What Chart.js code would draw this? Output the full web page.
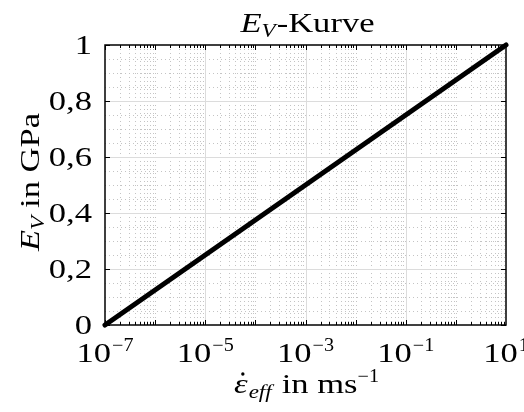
<!DOCTYPE html>
<html>
<head>
<meta charset="utf-8">
<script src="https://cdn.jsdelivr.net/npm/chart.js@4/dist/chart.umd.min.js"></script>
<style>
  html, body { margin: 0; padding: 0; background: #fff; }
  #wrap { width: 524px; height: 412px; }
</style>
</head>
<body>
<div id="wrap"><canvas id="evChart" width="524" height="412"></canvas></div>
<script>
// Daten der E_V-Kurve (Endpunkte der Geraden im log-x Diagramm)
const strainRates = [1e-7, 10];
const evValues = [0, 1];

// Achsenbeschriftung
const xTickExponents = [-7, -5, -3, -1, 1];
const yTickValues = [0, 0.2, 0.4, 0.6, 0.8, 1];
const yTickLabels = ['0', '0,2', '0,4', '0,6', '0,8', '1'];

const FONT = '"Liberation Serif", "DejaVu Serif", serif';
const SIZE = 27;
const SMALL = 18;
const STRETCH = 1.28; // breitere Schrift wie LaTeX

// Text aus mehreren Stücken (kursiv, tief-/hochgestellt) zeichnen
function setFont(ctx, r) {
    ctx.font = (r.italic ? 'italic ' : '') + r.size + 'px ' + FONT;
}

function runsWidth(ctx, runs) {
    let w = 0;
    runs.forEach(r => {
        setFont(ctx, r);
        w += ctx.measureText(r.text).width * (r.sx || STRETCH) + (r.gap || 0);
    });
    return w;
}

function drawRuns(ctx, runs, x, y, align) {
    let start = x;
    const w = runsWidth(ctx, runs);
    if (align === 'center') start = x - w / 2;
    if (align === 'right') start = x - w;
    ctx.textBaseline = 'alphabetic';
    ctx.textAlign = 'left';
    const pos = [];
    runs.forEach(r => {
        setFont(ctx, r);
        const sx = r.sx || STRETCH;
        const rw = ctx.measureText(r.text).width * sx;
        ctx.save();
        ctx.translate(start, y + (r.dy || 0));
        ctx.scale(sx, 1);
        ctx.fillText(r.text, 0, 0);
        ctx.restore();
        pos.push({ x: start, w: rw });
        start += rw + (r.gap || 0);
    });
    return pos;
}

const axesPlugin = {
    id: 'matlabAxes',
    beforeDatasetsDraw(chart) {
        const { ctx, chartArea: a, scales: { x, y } } = chart;
        ctx.save();

        // kleine Gitterlinien (gepunktet)
        ctx.strokeStyle = '#c4c4c4';
        ctx.lineWidth = 1;
        ctx.setLineDash([1, 3]);
        for (let e = -7; e < 1; e++) {
            for (let m = 1; m < 10; m++) {
                const v = m * Math.pow(10, e);
                if (m === 1 && (e % 2 !== 0)) continue;
                const px = Math.round(x.getPixelForValue(v)) + 0.5;
                ctx.beginPath();
                ctx.moveTo(px, a.top);
                ctx.lineTo(px, a.bottom);
                ctx.stroke();
            }
        }
        for (let i = 1; i < 20; i++) {
            if (i % 4 === 0) continue;
            const py = Math.round(y.getPixelForValue(i * 0.05)) + 0.5;
            ctx.beginPath();
            ctx.moveTo(a.left, py);
            ctx.lineTo(a.right, py);
            ctx.stroke();
        }

        // Hauptgitter
        ctx.setLineDash([]);
        ctx.strokeStyle = '#dcdcdc';
        xTickExponents.slice(1, -1).forEach(e => {
            const px = Math.round(x.getPixelForValue(Math.pow(10, e))) + 0.5;
            ctx.beginPath();
            ctx.moveTo(px, a.top);
            ctx.lineTo(px, a.bottom);
            ctx.stroke();
        });
        yTickValues.slice(1, -1).forEach(v => {
            const py = Math.round(y.getPixelForValue(v)) + 0.5;
            ctx.beginPath();
            ctx.moveTo(a.left, py);
            ctx.lineTo(a.right, py);
            ctx.stroke();
        });

        // Ticks nach innen
        ctx.strokeStyle = '#000';
        ctx.lineWidth = 1;
        for (let e = -7; e < 1; e++) {
            for (let m = 1; m < 10; m++) {
                const v = m * Math.pow(10, e);
                const px = Math.round(x.getPixelForValue(v)) + 0.5;
                const len = m === 1 ? 5 : 3;
                ctx.beginPath();
                ctx.moveTo(px, a.bottom);
                ctx.lineTo(px, a.bottom - len);
                ctx.moveTo(px, a.top);
                ctx.lineTo(px, a.top + len);
                ctx.stroke();
            }
        }
        yTickValues.forEach(v => {
            const py = Math.round(y.getPixelForValue(v)) + 0.5;
            ctx.beginPath();
            ctx.moveTo(a.left, py);
            ctx.lineTo(a.left + 5, py);
            ctx.moveTo(a.right, py);
            ctx.lineTo(a.right - 5, py);
            ctx.stroke();
        });

        // Rahmen
        ctx.lineWidth = 1.5;
        ctx.strokeRect(a.left, a.top, a.right - a.left, a.bottom - a.top);
        ctx.restore();
    },
    afterDraw(chart) {
        const { ctx, chartArea: a, scales: { x, y } } = chart;
        ctx.save();
        ctx.fillStyle = '#000';

        // y-Tickbeschriftung
        yTickValues.forEach((v, i) => {
            const py = y.getPixelForValue(v);
            drawRuns(ctx, [{ text: yTickLabels[i], size: SIZE }], a.left - 13, py + 9, 'right');
        });

        // x-Tickbeschriftung 10^n
        xTickExponents.forEach(e => {
            const px = x.getPixelForValue(Math.pow(10, e));
            const exp = e < 0 ? '\u2212' + (-e) : String(e);
            drawRuns(ctx, [
                { text: '10', size: SIZE, gap: 1 },
                { text: exp, size: SMALL, dy: -11, sx: 1.12 }
            ], px, a.bottom + 37, 'center');
        });

        // Titel
        drawRuns(ctx, [
            { text: 'E', size: SIZE, italic: true },
            { text: 'V', size: SMALL, italic: true, dy: 5, gap: 1 },
            { text: '-Kurve', size: SIZE }
        ], (a.left + a.right) / 2 + 2, 32, 'center');

        // x-Achsentitel
        const p = drawRuns(ctx, [
            { text: '\u03b5', size: SIZE, italic: true, gap: 1 },
            { text: 'eff', size: SMALL, italic: true, dy: 5, gap: 10 },
            { text: 'in ms', size: SIZE },
            { text: '\u22121', size: SMALL, dy: -11, sx: 1.12 }
        ], (a.left + a.right) / 2 + 1, 393, 'center');
        ctx.beginPath();
        ctx.arc(p[0].x + p[0].w / 2 + 2, 374, 1.7, 0, Math.PI * 2);
        ctx.fill();

        // y-Achsentitel (gedreht)
        ctx.translate(39, (a.top + a.bottom) / 2 - 3);
        ctx.rotate(-Math.PI / 2);
        drawRuns(ctx, [
            { text: 'E', size: SIZE, italic: true },
            { text: 'V', size: SMALL, italic: true, dy: 5, gap: 8 },
            { text: 'in GPa', size: SIZE }
        ], 0, 0, 'center');
        ctx.restore();
    }
};

const ctx = document.getElementById('evChart').getContext('2d');
new Chart(ctx, {
    type: 'scatter',
    data: {
        datasets: [{
            data: strainRates.map((v, i) => ({ x: v, y: evValues[i] })),
            showLine: true,
            borderColor: '#000',
            borderWidth: 5,
            borderCapStyle: 'round',
            pointRadius: 0,
            clip: false
        }]
    },
    options: {
        responsive: false,
        animation: false,
        layout: { padding: { left: 105, right: 18, top: 45, bottom: 87 } },
        plugins: { legend: { display: false }, tooltip: { enabled: false } },
        scales: {
            x: { type: 'logarithmic', min: 1e-7, max: 10, display: false },
            y: { type: 'linear', min: 0, max: 1, display: false }
        }
    },
    plugins: [axesPlugin]
});
</script>
</body>
</html>
